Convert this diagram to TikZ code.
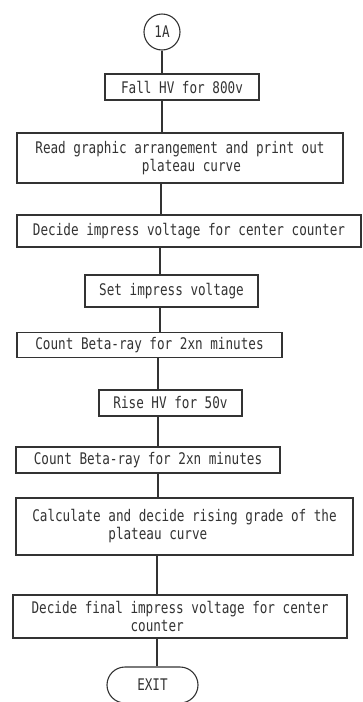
\documentclass[tikz,border=0pt]{standalone}
\usepackage{fontspec}
\usetikzlibrary{shapes.misc}
\newfontfamily\plotfont[FakeStretch=0.79]{DejaVu Sans Mono}
\definecolor{ink}{HTML}{333333}
\begin{document}
\begin{tikzpicture}[x=1pt,y=-1pt,
  every node/.style={font=\plotfont\fontsize{16}{18}\selectfont, text=ink},
  procbox/.style={draw=ink, line width=1.1pt, rectangle, inner sep=0pt},
  flow/.style={draw=ink, line width=1.1pt}]
\useasboundingbox (0,0) rectangle (362,702);
\fill[white] (0,0) rectangle (362,702);

% connector start mark
\node[draw=ink, line width=1.1pt, circle, minimum size=36pt, inner sep=0pt] (start) at (162,32) {1A};

% process steps
\node[procbox, minimum width=154pt, minimum height=26pt] (b1) at (182,87) {Fall HV for 800v};
\node[procbox, minimum width=326pt, minimum height=50pt, align=left] (b2) at (180,158)
  {Read graphic arrangement and print out\\\phantom{xxxxxxxxxxxxxx}plateau curve};
\node[procbox, minimum width=344pt, minimum height=32pt] (b3) at (189,231) {Decide impress voltage for center counter};
\node[procbox, minimum width=173pt, minimum height=32pt] (b4) at (171.5,291) {Set impress voltage};
\node[procbox, minimum width=265pt, minimum height=25pt] (b5) at (149.5,345) {Count Beta-ray for 2xn minutes};
\node[procbox, minimum width=143pt, minimum height=26pt] (b6) at (170.5,403) {Rise HV for 50v};
\node[procbox, minimum width=264pt, minimum height=26pt] (b7) at (148,460) {Count Beta-ray for 2xn minutes};
\node[procbox, minimum width=337pt, minimum height=57pt, align=left] (b8) at (184.5,526.5)
  {Calculate and decide rising grade of the\\\phantom{xxxxxxxxxx}plateau curve};
\node[procbox, minimum width=334pt, minimum height=43pt, align=left] (b9) at (180,616.5)
  {Decide final impress voltage for center\\\phantom{xxxxxxxxxxxxx}counter};
\node[draw=ink, line width=1.1pt, rounded rectangle, minimum width=91pt, minimum height=36pt,
      inner sep=0pt] (exit) at (152.5,685) {EXIT};

% connector columns
\coordinate (xa) at (162,0);
\coordinate (xb) at (161,0);
\coordinate (xc) at (160,0);
\coordinate (xd) at (158,0);
\coordinate (xe) at (157,0);

\draw[flow] (start.south) -- (b1.north -| xa);
\draw[flow] (b1.south -| xa) -- (b2.north -| xa);
\draw[flow] (b2.south -| xb) -- (b3.north -| xb);
\draw[flow] (b3.south -| xc) -- (b4.north -| xc);
\draw[flow] (b4.south -| xc) -- (b5.north -| xc);
\draw[flow] (b5.south -| xd) -- (b6.north -| xd);
\draw[flow] (b6.south -| xd) -- (b7.north -| xd);
\draw[flow] (b7.south -| xd) -- (b8.north -| xd);
\draw[flow] (b8.south -| xe) -- (b9.north -| xe);
\draw[flow] (b9.south -| xe) -- (exit.north -| xe);
\end{tikzpicture}
\end{document}
